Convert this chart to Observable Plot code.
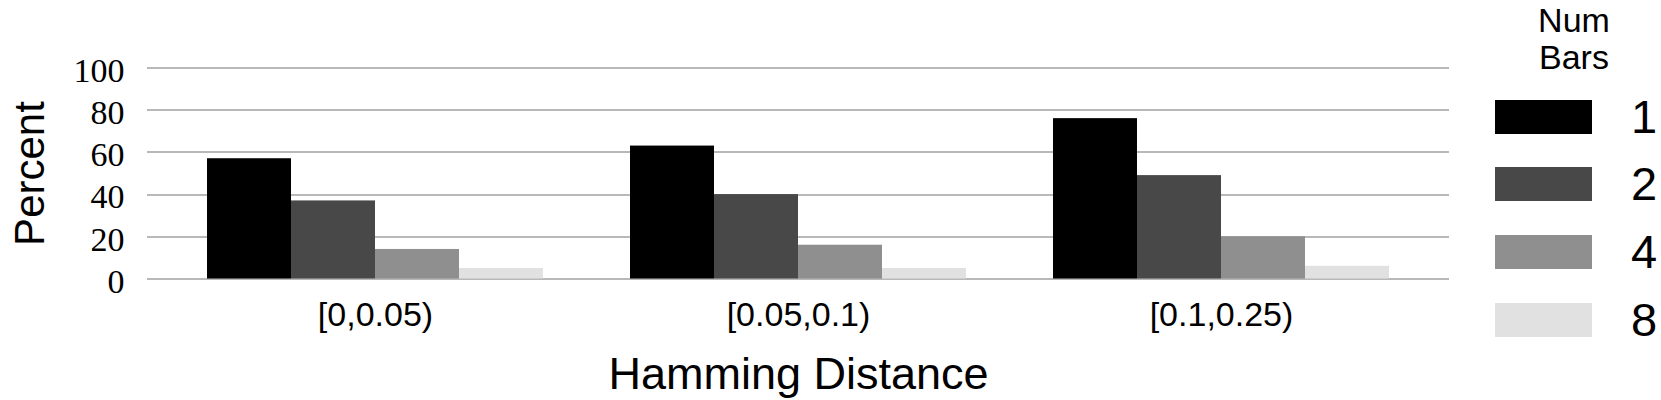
<!DOCTYPE html>
<html>
<head>
<meta charset="utf-8">
<script src="https://cdn.jsdelivr.net/npm/d3@7"></script>
<script src="https://cdn.jsdelivr.net/npm/@observablehq/plot@0.6"></script>
<style>
  html, body { margin: 0; padding: 0; background: #fff; }
  #wrap { position: relative; width: 1661px; height: 400px; overflow: hidden; }
  #legend { position: absolute; left: 0; top: 0; width: 1661px; height: 400px; pointer-events: none; font-family: "Liberation Sans", sans-serif; color: #000; }
  .ltitle { position: absolute; left: 1524px; width: 100px; text-align: center; font-size: 34px; line-height: 30px; height: 30px; }
  .sw { position: absolute; left: 1495px; width: 97px; height: 34px; }
  .lab { position: absolute; left: 1631px; font-size: 47px; line-height: 34px; height: 34px; }
</style>
</head>
<body>
<div id="wrap"><div id="chart"></div><div id="legend"></div></div>
<script>
// ---- data ----
const categories = ["[0,0.05)", "[0.05,0.1)", "[0.1,0.25)"];
const numBars = ["1", "2", "4", "8"];
const bars1 = [57, 63, 76];
const bars2 = [37, 40, 49];
const bars4 = [14, 16, 20];
const bars8 = [5, 5, 6];
const yTicks = [0, 20, 40, 60, 80, 100];
const colors = ["#000000", "#484848", "#8f8f8f", "#e1e1e1"];
const legendTitle = ["Num", "Bars"];
const xTitle = "Hamming Distance";
const yTitle = "Percent";

const series = [bars1, bars2, bars4, bars8];
const data = categories.flatMap((c, i) =>
  numBars.map((b, j) => ({category: c, bars: b, value: series[j][i]}))
);

const plot = Plot.plot({
  width: 1661,
  height: 400,
  marginLeft: 205,
  marginRight: 269,
  marginTop: 67.5,
  marginBottom: 121.5,
  style: {background: "#fff", color: "#000"},
  fx: {domain: categories, paddingInner: 0.2, paddingOuter: 0, label: null},
  x: {domain: numBars, padding: 0, axis: null},
  y: {domain: [0, 100], label: null},
  color: {domain: numBars, range: colors},
  marks: [
    Plot.ruleY(yTicks, {stroke: "#b8b8b8", strokeWidth: 2, insetLeft: -59, insetRight: -59, shapeRendering: "crispEdges"}),
    Plot.barY(data, {fx: "category", x: "bars", y: "value", fill: "bars"}),
    Plot.axisY(yTicks, {tickSize: 0, tickPadding: 82, dy: 3, fontSize: 34, fontFamily: "Liberation Serif", label: null}),
    Plot.axisY([], {tickSize: 0, label: yTitle, labelAnchor: "center", labelArrow: "none", labelOffset: 192, fontSize: 42, fontFamily: "Liberation Sans"}),
    Plot.axisFx({anchor: "bottom", tickSize: 0, tickPadding: 23, fontSize: 34, fontFamily: "Liberation Sans", label: null}),
    Plot.axisFx([], {anchor: "bottom", tickSize: 0, label: xTitle, labelAnchor: "center", labelArrow: "none", labelOffset: 110, fontSize: 45, fontFamily: "Liberation Sans"})
  ]
});
document.getElementById("chart").appendChild(plot);

// ---- legend (right side) ----
const color = plot.scale("color");
const leg = document.getElementById("legend");
legendTitle.forEach((t, i) => {
  const d = document.createElement("div");
  d.className = "ltitle";
  d.style.top = (5 + i * 37) + "px";
  d.textContent = t;
  leg.appendChild(d);
});
numBars.forEach((b, i) => {
  const top = 99.5 + i * 67.8;
  const s = document.createElement("div");
  s.className = "sw";
  s.style.top = top + "px";
  s.style.background = color.apply(b);
  leg.appendChild(s);
  const l = document.createElement("div");
  l.className = "lab";
  l.style.top = top + "px";
  l.textContent = b;
  leg.appendChild(l);
});
</script>
</body>
</html>
